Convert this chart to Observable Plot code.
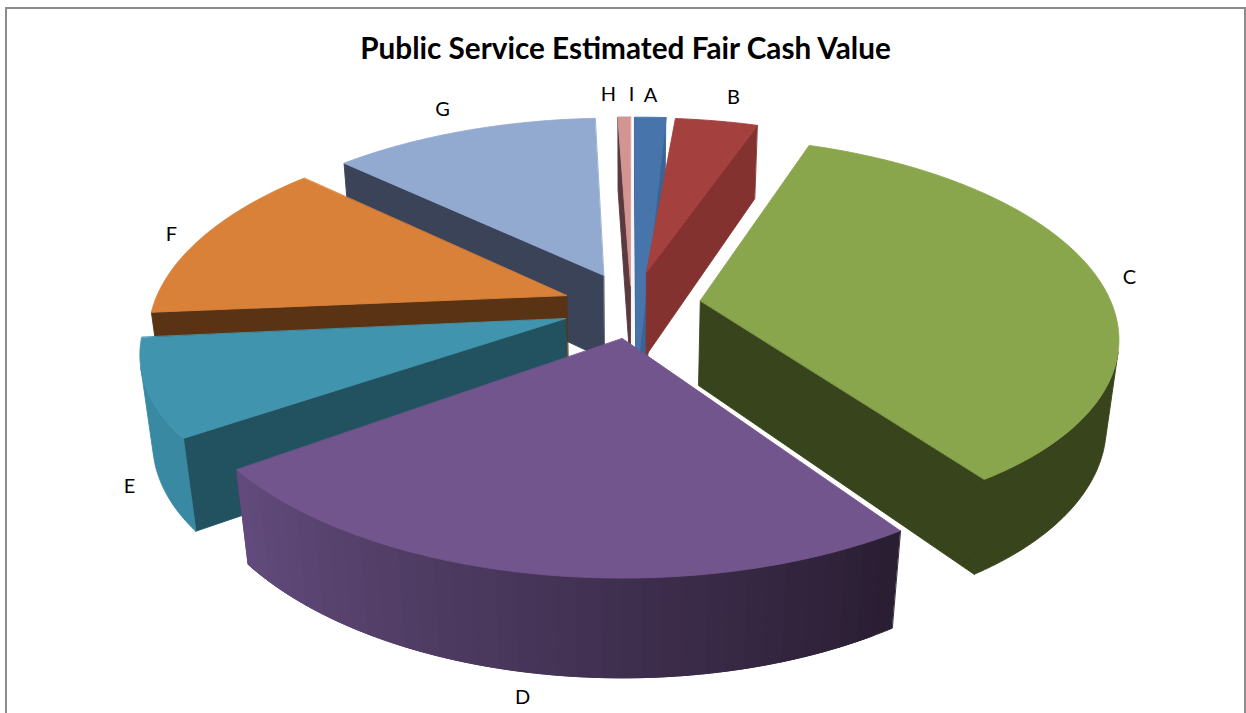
<!DOCTYPE html>
<html>
<head>
<meta charset="utf-8">
<script src="https://cdn.jsdelivr.net/npm/d3@7"></script>
<script src="https://cdn.jsdelivr.net/npm/@observablehq/plot@0.6"></script>
<style>
html,body{margin:0;padding:0;background:#fff;overflow:hidden}
#frame{position:relative;width:1246px;height:713px;overflow:hidden}
#box{position:absolute;left:5px;top:7px;width:1241px;height:720px;border:2px solid #8c8c8c;box-sizing:border-box}
#title{position:absolute;left:0;top:32px;width:1251px;text-align:center;font:bold 29.7px/32px Lato,"Open Sans",sans-serif;color:#000}
#chart{position:absolute;left:0;top:0}
svg{display:block;background:transparent}
</style>
</head>
<body>
<div id="frame"><div id="box"></div><div id="chart"></div><div id="title">Public Service Estimated Fair Cash Value</div></div>
<script>
// ---- chart values (percent of total)
const categories = ["A","B","C","D","E","F","G","H","I"];
const shares     = [0.97, 3.89, 34.6, 25.1, 7.9, 13.3, 12.45, 0.55, 0.01];
const gapsAfter  = [0.53, 0.17, 0.03, 0.33, 0.11, 0.03, 0.05, 0.05, 0];

// ---- styling
const topColors  = ["#4674AB","#A4403D","#8AA64D","#72558D","#4094AE","#D98139","#92A9D0","#D39592","#F4F4F4"];
const cutColors  = ["#3A6496","#84322F","#37441C","#2E2238","#22525F","#5A3314","#3A4358","#5A3A3E","#F4F4F4"];
const rimStart   = ["#3A6496","#84322F","#37441C","#2A1E33","#3A89A2","#5A3314","#3A4358","#5A3A3E","#F4F4F4"];
const rimEnd     = ["#3A6496","#84322F","#37441C","#624B7C","#3A89A2","#5A3314","#3A4358","#5A3A3E","#F4F4F4"];

// ---- exploded layout: offset of each slice's tip on the pie plane, and its radius along the sweep
const offsetX = [0.018, 0.044, 0.171, -0.014, -0.147, -0.148, -0.061, 0.005, 0.01];
const offsetY = [0.354, -0.147, 0, 0.186, 0.09, -0.025, -0.131, -0.078, -0.078];
const radiusStart = [1.5, 0.993, 0.996, 0.929, 0.94, 0.978, 0.996, 1.07, 1.07];
const radiusMid   = [1.5, 0.993, 0.98, 0.91, 0.96, 0.99, 1.0, 1.07, 1.07];
const radiusEnd   = [1.5, 0.993, 0.94, 0.952, 0.974, 1.005, 1.007, 1.07, 1.07];
const paintOrder = [7, 8, 0, 1, 6, 5, 4, 2, 3];

// ---- label placement (in plot scale units)
const labelX = [650, 733, 1129, 522, 129, 171, 442, 608, 631];
const labelY = [95, 97, 277, 697, 486, 234, 109, 94, 94];

// ---- camera for the 3-D look
const elev = 28 * Math.PI / 180, dist = 4.35, R = 420, cx = 628, cy = 300, depth3d = 0.235;
const sinE = Math.sin(elev), cosE = Math.cos(elev);
function project(X, Y, Z) {
  const s = dist / (dist - (Y * cosE + Z * sinE));
  return [cx + R * X * s, cy + R * (Y * sinE - Z * cosE) * s];
}

// build polygon table
const rows = [];
let poly = 0;
function addPoly(pts, color) {
  const id = poly++;
  for (const [x, y] of pts) rows.push({id, x, y, color});
}
function area(p) {
  let a = 0;
  for (let i = 0; i < p.length; i++) {
    const q = p[(i + 1) % p.length];
    a += p[i][0] * q[1] - q[0] * p[i][1];
  }
  return a;
}
const startAngle = [];
let cum = 270;
shares.forEach((v, i) => { startAngle[i] = cum; cum += (v + gapsAfter[i]) * 3.6; });

for (const i of paintOrder) {
  const a0 = startAngle[i] * Math.PI / 180, a1 = a0 + shares[i] * 3.6 * Math.PI / 180;
  const n = Math.max(8, Math.ceil(shares[i] * 6));
  const rim = d3.range(n + 1).map(k => {
    const t = k / n, a = a0 + (a1 - a0) * t;
    const r = radiusStart[i] * (1 - t) * (1 - 2 * t) + radiusMid[i] * 4 * t * (1 - t) + radiusEnd[i] * t * (2 * t - 1);
    return [offsetX[i] + r * Math.cos(a), offsetY[i] + r * Math.sin(a)];
  });
  const tip = [offsetX[i], offsetY[i]];
  const top = p => project(p[0], p[1], 0), bot = p => project(p[0], p[1], -depth3d);
  const wall = (p, q) => [top(p), top(q), bot(q), bot(p)];
  // cut faces
  for (const [p, q] of [[tip, rim[0]], [rim[n], tip]]) {
    const w = wall(p, q);
    if (area(w) < 0) addPoly(w, cutColors[i]);
  }
  // outer rim: visible runs, merged into shading bands along the sweep; each band runs under the next
  const bands = rimStart[i] === rimEnd[i] ? 1 : 36;
  const shade = d3.interpolateRgb(rimStart[i], rimEnd[i]);
  for (let b = 0; b < bands; b++) {
    const vis = d3.range(n).filter(k => {
      const band = Math.min(bands - 1, Math.floor(k / n * bands));
      return (band === b || band === b + 1) && area(wall(rim[k], rim[k + 1])) < 0;
    });
    if (!vis.length) continue;
    const run = [...vis, vis[vis.length - 1] + 1].map(k => rim[k]);
    addPoly([...run.map(top), ...run.slice().reverse().map(bot)], shade(bands > 1 ? b / (bands - 1) : 0));
  }
  // top face
  addPoly([top(tip), ...rim.map(top)], topColors[i]);
}

const labels = categories.map((c, i) => ({c, x: labelX[i], y: labelY[i]}));

const plot = Plot.plot({
  width: 1246, height: 713,
  margin: 0,
  x: {domain: [0, 1246], range: [0, 1246], axis: null},
  y: {domain: [0, 713], range: [0, 713], axis: null},
  color: {type: "identity"},
  style: {background: "transparent"},
  marks: [
    Plot.line(rows, {x: "x", y: "y", z: "id", fill: "color", stroke: "color", strokeWidth: 0.9, curve: "linear-closed"}),
    Plot.text(labels, {x: "x", y: "y", text: "c", fontSize: 20, fontFamily: "Lato, 'Open Sans', sans-serif", fill: "#000"})
  ]
});
document.getElementById("chart").appendChild(plot);
</script>
</body>
</html>
